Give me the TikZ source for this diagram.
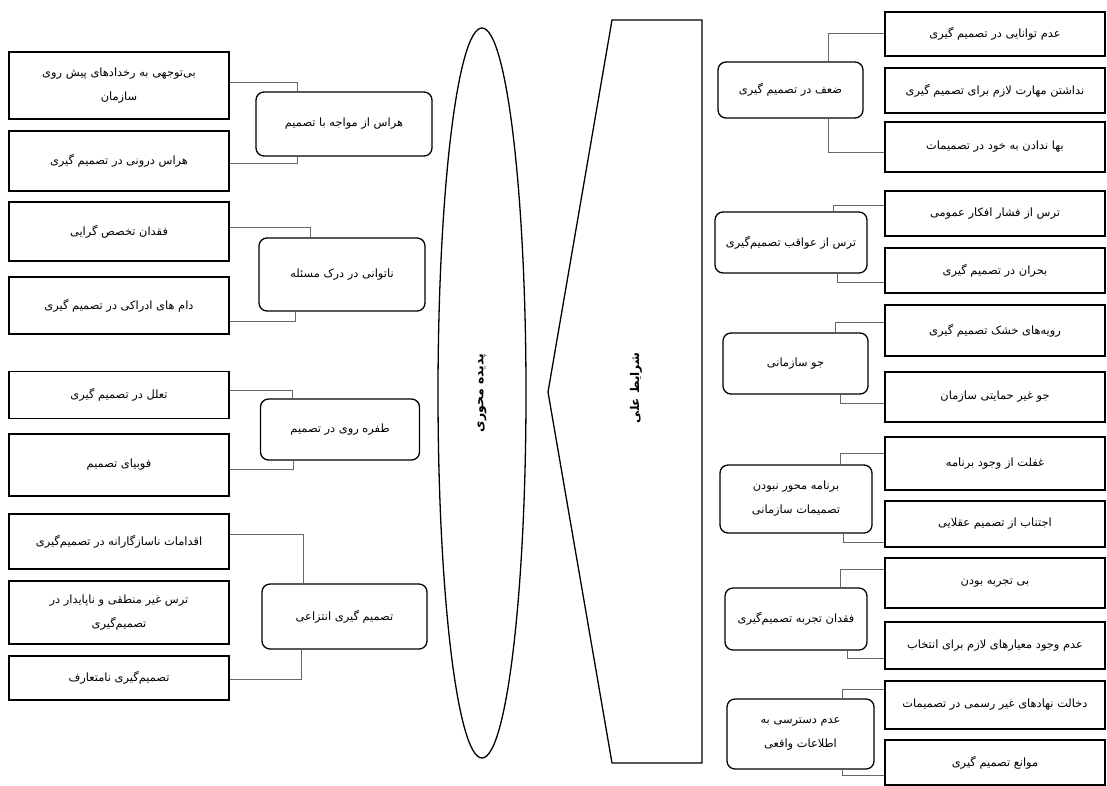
\documentclass[tikz,border=0pt]{standalone}
\usepackage{fontspec}
\usetikzlibrary{shapes.geometric}
\newfontfamily\farsi[Script=Arabic]{DejaVu Sans}
\TeXXeTstate=1
\newcommand{\fa}[1]{{\farsi\beginR #1\endR}}

\begin{document}
\begin{tikzpicture}[
    x=1pt, y=-1pt,
    leaf/.style={
        rectangle,
        draw=black,
        line width=1.3pt,
        minimum width=220pt,
        align=center,
        font=\fontsize{11.4}{24}\selectfont
    },
    theme/.style={
        rectangle,
        draw=black,
        line width=1.3pt,
        rounded corners=8pt,
        align=center,
        font=\fontsize{11.4}{24}\selectfont
    },
    link/.style={
        draw=black!60,
        line width=0.8pt
    }
]
\useasboundingbox (0,0) rectangle (1107,785);

% Core phenomenon
\node[ellipse, draw, line width=1.3pt, rotate=90, minimum width=730pt, minimum height=88pt,
      font=\fontsize{12.5}{14}\selectfont\bfseries] (core) at (482,393) {\fa{پدیده محوری}};

% Causal conditions
\draw[line width=1.3pt] (612,20) -- (702,20) -- (702,763) -- (612,763) -- (548,392) -- cycle;
\node[rotate=90, font=\fontsize{12}{14}\selectfont\bfseries] (causal) at (636,388) {\fa{شرایط علی}};

% Left group 1
\node[leaf, minimum height=67pt] (neglect) at (119,85.5) {\fa{بی‌توجهی به رخدادهای پیش روی}\\\fa{سازمان}};
\node[leaf, minimum height=60pt] (innerfear) at (119,161) {\fa{هراس درونی در تصمیم گیری}};
\node[theme, minimum width=176pt, minimum height=64pt] (dread) at (344,124) {\fa{هراس از مواجه با تصمیم}};

% Left group 2
\node[leaf, minimum height=59pt] (nospecial) at (119,231.5) {\fa{فقدان تخصص گرایی}};
\node[leaf, minimum height=57pt] (traps) at (119,305.5) {\fa{دام های ادراکی در تصمیم گیری}};
\node[theme, minimum width=166pt, minimum height=73pt] (misread) at (342,274.5) {\fa{ناتوانی در درک مسئله}};

% Left group 3
\node[leaf, minimum height=47pt] (delay) at (119,395) {\fa{تعلل در تصمیم گیری}};
\node[leaf, minimum height=62pt] (phobia) at (119,465) {\fa{فوبیای تصمیم}};
\node[theme, minimum width=159pt, minimum height=61pt] (evade) at (340,429.5) {\fa{طفره روی در تصمیم}};

% Left group 4
\node[leaf, minimum height=55pt] (misfit) at (119,541.5) {\fa{اقدامات ناسازگارانه در تصمیم‌گیری}};
\node[leaf, minimum height=63pt] (irrational) at (119,612.5) {\fa{ترس غیر منطقی و ناپایدار در}\\\fa{تصمیم‌گیری}};
\node[leaf, minimum height=44pt] (odd) at (119,678) {\fa{تصمیم‌گیری نامتعارف}};
\node[theme, minimum width=165pt, minimum height=65pt] (abstract) at (344.5,616.5) {\fa{تصمیم گیری انتزاعی}};

% Right group 1
\node[leaf, minimum height=44pt] (unable) at (995,34) {\fa{عدم توانایی در تصمیم گیری}};
\node[leaf, minimum height=45pt] (noskill) at (995,90.5) {\fa{نداشتن مهارت لازم برای تصمیم گیری}};
\node[leaf, minimum height=50pt] (selfworth) at (995,147) {\fa{بها ندادن به خود در تصمیمات}};
\node[theme, minimum width=145pt, minimum height=56pt] (weak) at (790.5,90) {\fa{ضعف در تصمیم گیری}};

% Right group 2
\node[leaf, minimum height=45pt] (opinion) at (995,213.5) {\fa{ترس از فشار افکار عمومی}};
\node[leaf, minimum height=45pt] (crisis) at (995,270.5) {\fa{بحران در تصمیم گیری}};
\node[theme, minimum width=152pt, minimum height=61pt] (fearconseq) at (791,242.5) {\fa{ترس از عواقب تصمیم‌گیری}};

% Right group 3
\node[leaf, minimum height=51pt] (rigid) at (995,330.5) {\fa{رویه‌های خشک تصمیم گیری}};
\node[leaf, minimum height=50pt] (unsupport) at (995,397) {\fa{جو غیر حمایتی سازمان}};
\node[theme, minimum width=145pt, minimum height=61pt] (climate) at (795.5,363.5) {\fa{جو سازمانی}};

% Right group 4
\node[leaf, minimum height=53pt] (unaware) at (995,463.5) {\fa{غفلت از وجود برنامه}};
\node[leaf, minimum height=46pt] (avoid) at (995,524) {\fa{اجتناب از تصمیم عقلایی}};
\node[theme, minimum width=152pt, minimum height=68pt] (unplanned) at (796,499) {\fa{برنامه محور نبودن}\\\fa{تصمیمات سازمانی}};

% Right group 5
\node[leaf, minimum height=50pt] (novice) at (995,583) {\fa{بی تجربه بودن}};
\node[leaf, minimum height=47pt] (nocriteria) at (995,645.5) {\fa{عدم وجود معیارهای لازم برای انتخاب}};
\node[theme, minimum width=142pt, minimum height=62pt] (inexp) at (796,619) {\fa{فقدان تجربه تصمیم‌گیری}};

% Right group 6
\node[leaf, minimum height=48pt] (informal) at (995,705) {\fa{دخالت نهادهای غیر رسمی در تصمیمات}};
\node[leaf, minimum height=45pt] (barriers) at (995,762.5) {\fa{موانع تصمیم گیری}};
\node[theme, minimum width=147pt, minimum height=70pt] (noinfo) at (800.5,734) {\fa{عدم دسترسی به}\\\fa{اطلاعات واقعی}};

% Links, left
\draw[link] ([yshift=3.5pt]neglect.east) -| ([xshift=-47pt]dread.north);
\draw[link] ([yshift=-2pt]innerfear.east) -| ([xshift=-47pt]dread.south);
\draw[link] ([yshift=4.5pt]nospecial.east) -| ([xshift=-32pt]misread.north);
\draw[link] ([yshift=-15.5pt]traps.east) -| ([xshift=-47pt]misread.south);
\draw[link] ([yshift=5pt]delay.east) -| ([xshift=-48pt]evade.north);
\draw[link] ([yshift=-4pt]phobia.east) -| ([xshift=-47pt]evade.south);
\draw[link] ([yshift=7.5pt]misfit.east) -| ([xshift=-41.5pt]abstract.north);
\draw[link] ([yshift=-1pt]odd.east) -| ([xshift=-43.5pt]abstract.south);

% Links, right
\draw[link] ([yshift=1pt]unable.west) -| ([xshift=37.5pt]weak.north);
\draw[link] ([yshift=-5pt]selfworth.west) -| ([xshift=37.5pt]weak.south);
\draw[link] ([yshift=8.5pt]opinion.west) -| ([xshift=42pt]fearconseq.north);
\draw[link] ([yshift=-11.5pt]crisis.west) -| ([xshift=46pt]fearconseq.south);
\draw[link] ([yshift=8.5pt]rigid.west) -| ([xshift=39.5pt]climate.north);
\draw[link] ([yshift=-6pt]unsupport.west) -| ([xshift=44.5pt]climate.south);
\draw[link] ([yshift=10.5pt]unaware.west) -| ([xshift=44pt]unplanned.north);
\draw[link] ([yshift=-18pt]avoid.west) -| ([xshift=47pt]unplanned.south);
\draw[link] ([yshift=14pt]novice.west) -| ([xshift=44pt]inexp.north);
\draw[link] ([yshift=-12.5pt]nocriteria.west) -| ([xshift=51pt]inexp.south);
\draw[link] ([yshift=16pt]informal.west) -| ([xshift=41.5pt]noinfo.north);
\draw[link] ([yshift=-12.5pt]barriers.west) -| ([xshift=41.5pt]noinfo.south);

\end{tikzpicture}
\end{document}
